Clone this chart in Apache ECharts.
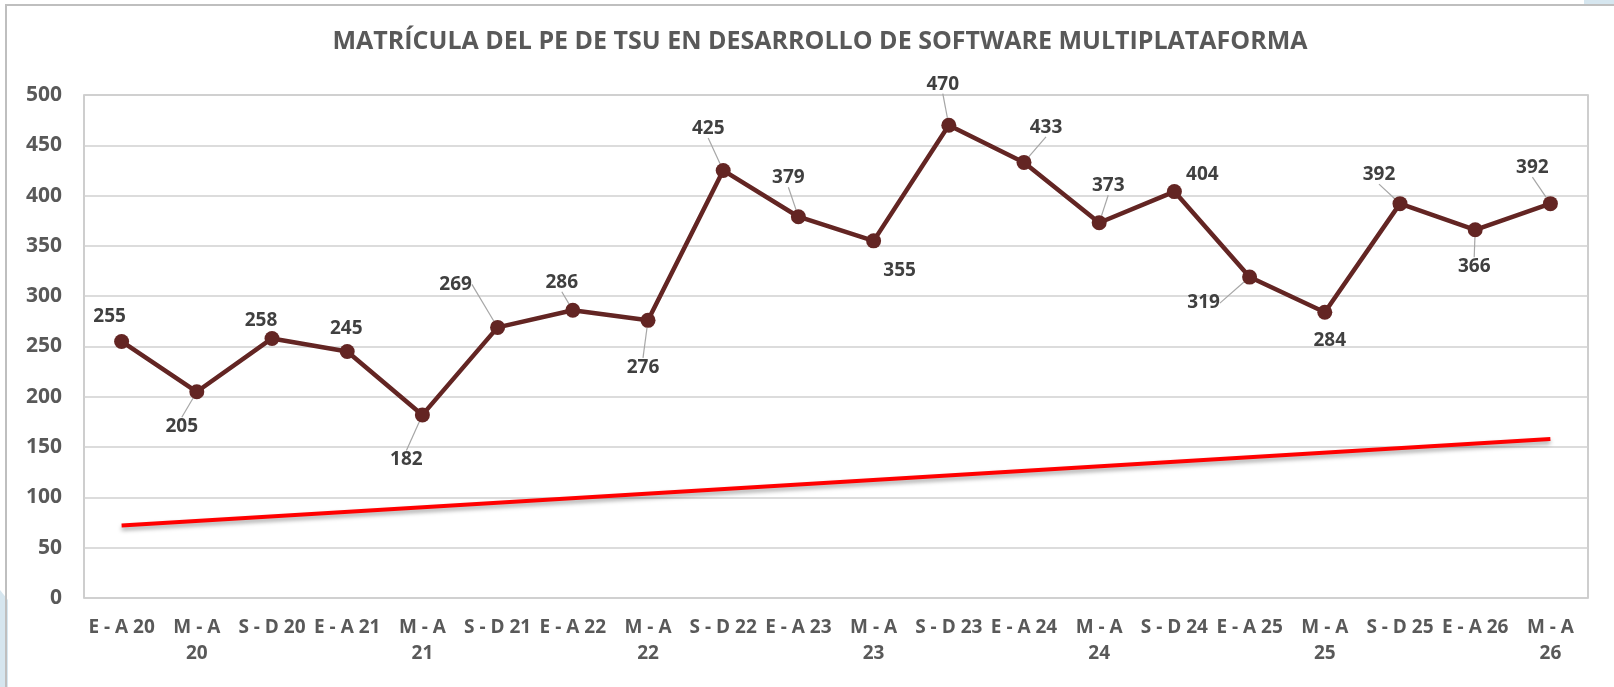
<!DOCTYPE html>
<html>
<head>
<meta charset="utf-8">
<script src="https://cdn.jsdelivr.net/npm/echarts@6/dist/echarts.min.js"></script>
<style>
  html, body { margin: 0; padding: 0; background: #fff; }
  #matricula { width: 1614px; height: 687px; }
</style>
</head>
<body>
<div id="matricula"></div>
<script>
// periodos (cuatrimestres)
var periodos = ['E - A 20', 'M - A 20', 'S - D 20', 'E - A 21', 'M - A 21', 'S - D 21',
  'E - A 22', 'M - A 22', 'S - D 22', 'E - A 23', 'M - A 23', 'S - D 23',
  'E - A 24', 'M - A 24', 'S - D 24', 'E - A 25', 'M - A 25', 'S - D 25',
  'E - A 26', 'M - A 26'];
// matricula por periodo
var matricula = [255, 205, 258, 245, 182, 269, 286, 276, 425, 379, 355, 470, 433, 373, 404, 319, 284, 392, 366, 392];
var lineaInicio = 72;
var lineaFin = 158;
var yTicks = [0, 50, 100, 150, 200, 250, 300, 350, 400, 450, 500];

var linea = periodos.map(function (p, i) {
  if (i === 0) return lineaInicio;
  if (i === periodos.length - 1) return lineaFin;
  return null;
});

// desplazamiento de cada etiqueta respecto al punto [dx, dy, guia]
var etiquetaPos = [
  [-12, -25, 0], [-15, 35, 1], [-11, -18, 0], [-1, -23, 0], [-16, 45, 1],
  [-42, -43, 1], [-11, -28, 1], [-5, 47, 1], [-15, -42, 1], [-10, -39, 1],
  [26, 30, 0], [-6, -41, 1], [22, -35, 1], [9, -37, 1], [28, -17, 0],
  [-46, 26, 1], [5, 28, 0], [-21, -29, 1], [-1, 37, 1], [-18, -36, 1]
];

var puntos = matricula.map(function (v, i) {
  return { value: v, labelLine: { show: etiquetaPos[i][2] === 1 } };
});

var myechart = echarts.init(document.getElementById('matricula'));
var fuente = '"Open Sans", "Noto Sans", sans-serif';

myechart.setOption({
  animation: false,
  backgroundColor: '#ffffff',
  graphic: [
    {
      // adorno azul claro de la diapositiva, abajo a la izquierda
      type: 'polygon',
      shape: { points: [[0, 590], [8, 600], [8, 687], [0, 687]] },
      style: { fill: '#d6e6ef' },
      z: -20
    },
    {
      type: 'rect',
      shape: { x: 1584, y: 0, width: 30, height: 6 },
      style: { fill: '#d6e6ef' },
      z: -20
    },
    {
      type: 'rect',
      shape: { x: 6, y: 5, width: 1700, height: 800 },
      style: { fill: 'none', stroke: '#bfbfbf', lineWidth: 2 },
      z: -10
    }
  ],
  title: {
    text: 'MATRÍCULA DEL PE DE TSU EN DESARROLLO DE SOFTWARE MULTIPLATAFORMA',
    left: 815,
    textAlign: 'center',
    top: 24,
    textStyle: { fontFamily: fuente, fontSize: 25, fontWeight: 'bold', color: '#595959' }
  },
  grid: {
    left: 84,
    right: 26,
    top: 95,
    bottom: 89,
    show: true,
    borderColor: '#bfbfbf',
    borderWidth: 1.5
  },
  xAxis: {
    type: 'category',
    data: periodos,
    axisLine: { show: false },
    axisTick: { show: false },
    axisLabel: {
      interval: 0,
      margin: 17,
      fontFamily: fuente,
      fontSize: 19,
      fontWeight: 'bold',
      color: '#595959',
      lineHeight: 26,
      formatter: function (v) {
        // Excel parte en dos lineas las etiquetas "M - A"
        return v.indexOf('M') === 0 ? v.replace(' 2', '\n2') : v;
      }
    }
  },
  yAxis: {
    type: 'value',
    min: yTicks[0],
    max: yTicks[yTicks.length - 1],
    interval: 50,
    axisLine: { show: false },
    axisTick: { show: false },
    splitLine: { lineStyle: { color: '#d0d0d0', width: 1.5 } },
    axisLabel: {
      margin: 22,
      fontFamily: fuente,
      fontSize: 21,
      fontWeight: 'bold',
      color: '#595959'
    }
  },
  series: [
    {
      name: 'Linea',
      type: 'line',
      data: linea,
      connectNulls: true,
      symbol: 'none',
      z: 2,
      lineStyle: {
        color: '#ff0000',
        width: 4,
        shadowColor: 'rgba(0,0,0,0.35)',
        shadowBlur: 4,
        shadowOffsetY: 3
      }
    },
    {
      name: 'Matrícula',
      type: 'line',
      data: puntos,
      z: 3,
      symbol: 'circle',
      symbolSize: 15,
      itemStyle: { color: '#632523' },
      lineStyle: { color: '#632523', width: 4.5 },
      label: {
        show: true,
        position: 'inside',
        fontFamily: fuente,
        fontSize: 19,
        fontWeight: 'bold',
        color: '#404040'
      },
      labelLine: {
        show: true,
        lineStyle: { color: '#a6a6a6', width: 1.2 }
      },
      labelLayout: function (params) {
        var p = etiquetaPos[params.dataIndex];
        return { dx: p[0], dy: p[1] };
      }
    }
  ]
});
</script>
</body>
</html>
